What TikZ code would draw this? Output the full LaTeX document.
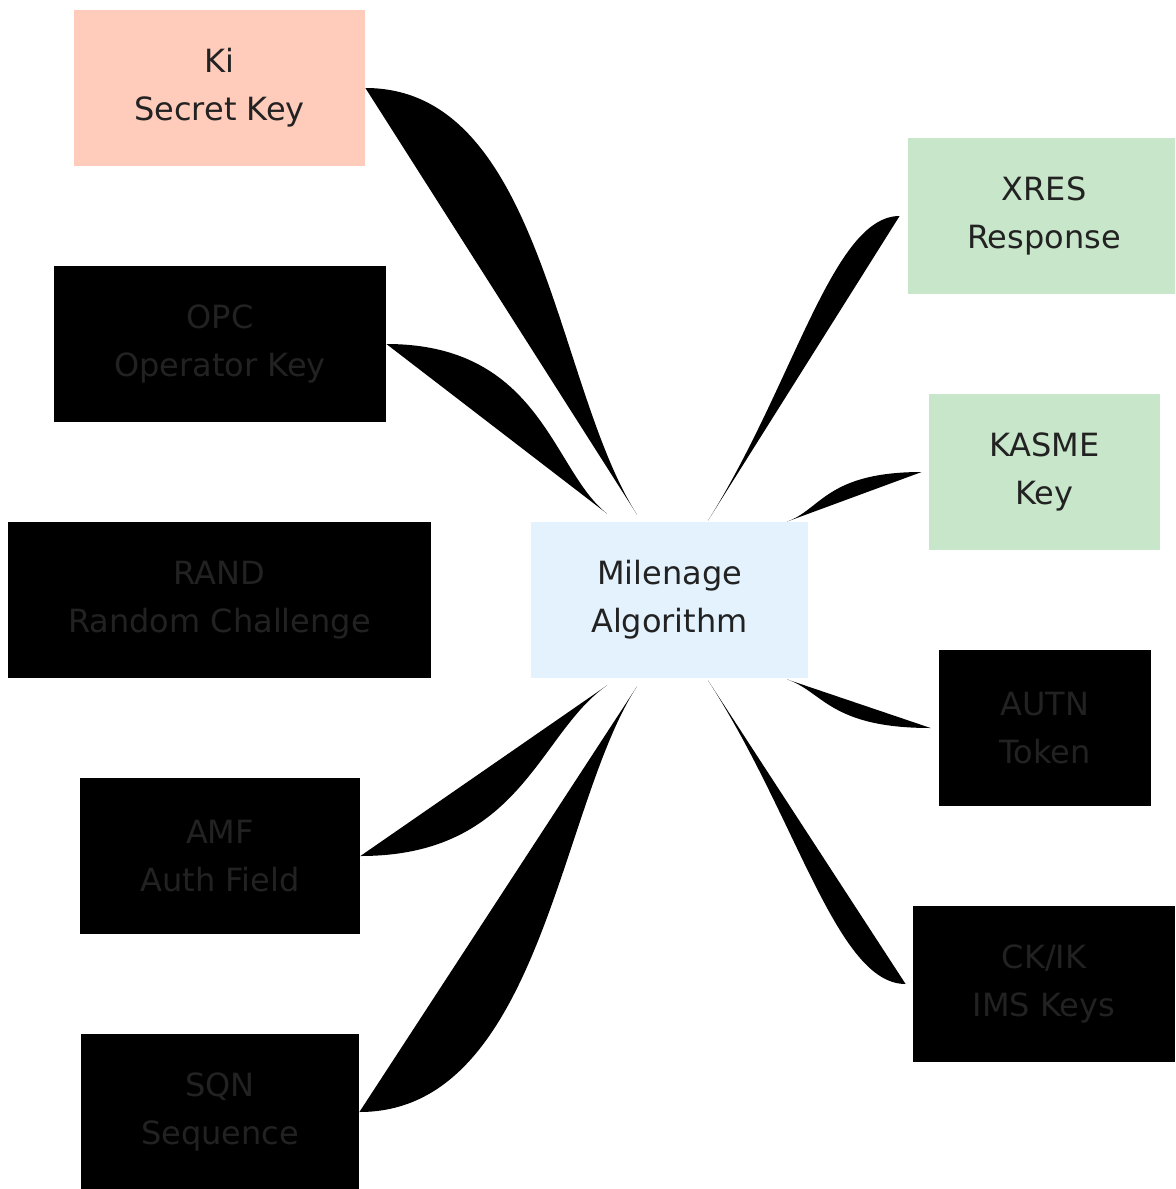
\documentclass[tikz,border=0pt]{standalone}
\usepackage{fontspec}
\setmainfont{DejaVu Sans}
\usepackage{tikz}
\usepackage{xcolor}
\usetikzlibrary{calc}
\definecolor{keyred}{HTML}{FFCCBC}
\definecolor{algoblue}{HTML}{E3F2FD}
\definecolor{outgreen}{HTML}{C8E6C9}
\definecolor{labelink}{HTML}{222222}

\begin{document}
\begin{tikzpicture}[x=0.5pt,y=-0.5pt,every node/.style={font=\fontsize{16}{24}\selectfont,text=labelink},
  box/.style={rectangle,inner sep=0pt,minimum height=78pt,align=center},
  link/.style={fill=black}]
\useasboundingbox (0,0) rectangle (1175,1189);
\clip (0,0) rectangle (1175,1189);
\node[box,fill=keyred,minimum width=145.5pt] (ki) at (219.5,88) {Ki\\Secret Key};
\node[box,fill=black,minimum width=166pt] (opc) at (220,344) {OPC\\Operator Key};
\node[box,fill=black,minimum width=211.5pt] (rand) at (219.5,600) {RAND\\Random Challenge};
\node[box,fill=black,minimum width=140pt] (amf) at (220,856) {AMF\\Auth Field};
\node[box,fill=black,minimum width=139pt] (sqn) at (220,1112) {SQN\\Sequence};
\node[box,fill=algoblue,minimum width=138.5pt] (mil) at (669.5,600) {Milenage\\Algorithm};
\node[box,fill=outgreen,minimum width=136pt] (xres) at (1044,216) {XRES\\Response};
\node[box,fill=outgreen,minimum width=115.5pt] (kasme) at (1044.5,472) {KASME\\Key};
\node[box,fill=black,minimum width=106pt] (autn) at (1045,728) {AUTN\\Token};
\node[box,fill=black,minimum width=131pt] (ckik) at (1044,984) {CK/IK\\IMS Keys};
\coordinate (inKi) at ($(mil.north)+(-32.5,-7)$);
\coordinate (inOpc) at ($(mil.north)+(-62.5,-8)$);
\coordinate (inAmf) at ($(mil.south)+(-62.5,7)$);
\coordinate (inSqn) at ($(mil.south)+(-32.5,8)$);
\coordinate (inXres) at ($(mil.north)+(38.5,-1)$);
\coordinate (inKasme) at ($(mil.north)+(117.5,0)$);
\coordinate (inAutn) at ($(mil.south)+(117.5,1)$);
\coordinate (inCkik) at ($(mil.south)+(38.5,2)$);
\coordinate (outXres) at ($(xres.west)+(-8,0)$);
\coordinate (outKasme) at ($(kasme.west)+(-7,0)$);
\coordinate (outAutn) at ($(autn.west)+(-8,0)$);
\coordinate (outCkik) at ($(ckik.west)+(-7,0)$);
\fill[link] (ki.east) .. controls +(177,0) and +(-82,-128) .. (inKi) -- cycle;
\fill[link] (opc.east) .. controls +(155,0) and +(-55,-43) .. (inOpc) -- cycle;
\fill[link] (amf.east) .. controls +(161,0) and +(-69,48) .. (inAmf) -- cycle;
\fill[link] (sqn.east) .. controls +(181,0) and +(-78,119) .. (inSqn) -- cycle;
\fill[link] (outXres) .. controls +(-67,0) and +(86,-137) .. (inXres) -- cycle;
\fill[link] (outKasme) .. controls +(-95,0) and +(34,-12) .. (inKasme) -- cycle;
\fill[link] (outAutn) .. controls +(-101,0) and +(36,12) .. (inAutn) -- cycle;
\fill[link] (outCkik) .. controls +(-69,0) and +(89,137) .. (inCkik) -- cycle;
\end{tikzpicture}
\end{document}
